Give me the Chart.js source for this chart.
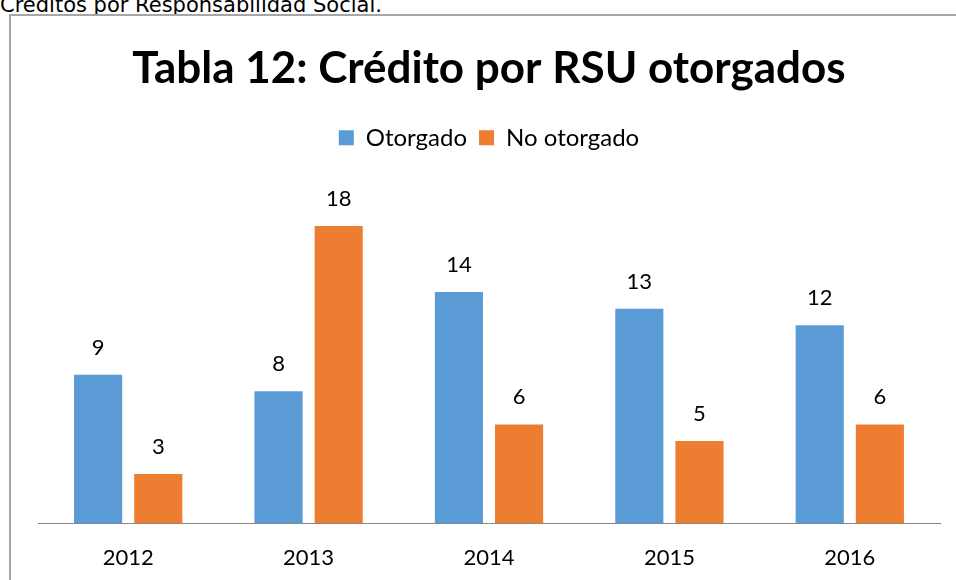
<!DOCTYPE html>
<html>
<head>
<title>Tabla 12</title>
<style>
  body { margin: 0; background: #fff; width: 956px; height: 580px; overflow: hidden; position: relative; }
  #caption { position: absolute; left: 0; top: -7px; font: 21px "DejaVu Sans", Verdana, sans-serif; color: #000; white-space: nowrap; }
  #box { position: absolute; left: 9px; top: 14px; width: 960px; height: 580px; border-left: 2px solid #a6a6a6; border-top: 2px solid #a6a6a6; box-sizing: border-box; background: #fff; }
  #myChart { position: absolute; left: 11px; top: 16px; }
</style>
</head>
<body>
<div id="caption">Créditos por Responsabilidad Social.</div>
<div id="box"></div>
<canvas id="myChart" width="945" height="576"></canvas>

<script src="https://cdn.jsdelivr.net/npm/chart.js"></script>
<script>
const years = ['2012', '2013', '2014', '2015', '2016'];
const otorgado = [9, 8, 14, 13, 12];
const noOtorgado = [3, 18, 6, 5, 6];

const font = 'Lato, Carlito, Calibri, sans-serif';

// labels above each bar
const barLabels = {
  id: 'barLabels',
  afterDatasetsDraw(chart) {
    const c = chart.ctx;
    c.save();
    c.font = '22px ' + font;
    c.fillStyle = '#000';
    c.textAlign = 'center';
    c.textBaseline = 'middle';
    chart.data.datasets.forEach((ds, i) => {
      chart.getDatasetMeta(i).data.forEach((bar, j) => {
        c.fillText(ds.data[j], bar.x, bar.y - 27);
      });
    });
    c.restore();
  }
};

new Chart(document.getElementById('myChart'), {
  type: 'bar',
  data: {
    labels: years,
    datasets: [
      { label: 'Otorgado', data: otorgado, backgroundColor: '#5b9bd5' },
      { label: 'No otorgado', data: noOtorgado, backgroundColor: '#ed7d31' }
    ]
  },
  options: {
    responsive: false,
    animation: false,
    categoryPercentage: 0.667,
    barPercentage: 0.8,
    layout: { padding: { left: 27, right: 16, top: 26, bottom: 0 } },
    plugins: {
      title: {
        display: true,
        text: 'Tabla 12: Crédito por RSU otorgados',
        color: '#000',
        font: { family: font, size: 44, weight: 'bold' },
        padding: { top: 0, bottom: 19 }
      },
      legend: {
        labels: {
          color: '#000',
          font: { family: font, size: 24 },
          boxWidth: 15,
          boxHeight: 15,
          padding: 12
        }
      },
      tooltip: { enabled: false }
    },
    scales: {
      x: {
        grid: { display: false, drawTicks: false },
        border: { color: '#868686', width: 1 },
        ticks: { color: '#000', font: { family: font, size: 22 }, padding: 21 }
      },
      y: { display: false, min: 0, max: 22 }
    }
  },
  plugins: [barLabels]
});
</script>
</body>
</html>
